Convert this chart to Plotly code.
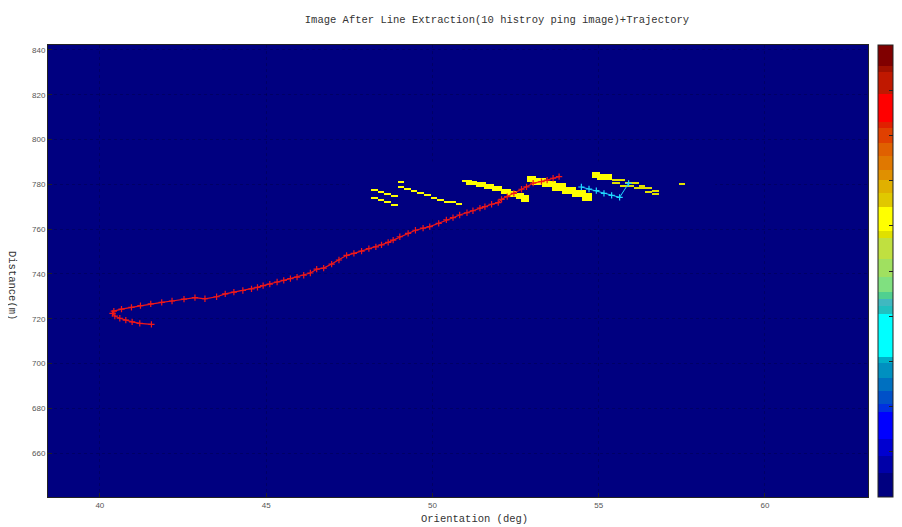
import numpy as np
import plotly.graph_objects as go

title_text = "Image After Line Extraction(10 histroy ping image)+Trajectory"
x_title = "Orientation (deg)"
y_title = "Distance(m)"

x_ticks = [40, 45, 50, 55, 60]
y_ticks = [660, 680, 700, 720, 740, 760, 780, 800, 820, 840]
cbar_ticks = [0, -5, -10, -15, -20, -25, -30, -35, -40, -45, -50]

# red trajectory (orientation deg, distance m)
traj_deg = [41.55, 41.20, 40.97, 40.78, 40.60, 40.45, 40.38, 40.42, 40.65, 40.95,
            41.22, 41.53, 41.86, 42.17, 42.53, 42.86, 43.16, 43.51, 43.77, 44.03,
            44.30, 44.56, 44.74, 44.91, 45.11, 45.33, 45.53, 45.73, 45.93, 46.13,
            46.33, 46.52, 46.73, 46.97, 47.19, 47.42, 47.64, 47.87, 48.09, 48.30,
            48.47, 48.67, 48.82, 49.02, 49.27, 49.49, 49.72, 49.92, 50.19, 50.42,
            50.62, 50.82, 51.04, 51.22, 51.43, 51.58, 51.78, 51.98, 52.08, 52.25,
            52.45, 52.68, 52.83, 53.03, 53.28, 53.45, 53.63, 53.81]
traj_dist = [717.5, 717.9, 718.6, 719.4, 720.2, 721.2, 722.4, 723.4, 724.3, 725.1,
             725.8, 726.6, 727.3, 727.9, 728.7, 729.4, 728.9, 729.8, 731.1, 731.9,
             732.6, 733.3, 734.0, 734.8, 735.4, 736.4, 737.1, 737.9, 738.6, 739.4,
             740.4, 742.1, 742.6, 744.4, 746.2, 748.3, 749.2, 750.2, 751.3, 752.1,
             753.0, 754.1, 755.1, 756.6, 758.1, 759.5, 760.4, 761.1, 762.6, 764.1,
             765.1, 766.3, 767.3, 768.2, 769.4, 770.0, 771.1, 771.8, 773.3, 774.5,
             776.0, 777.8, 778.9, 780.5, 781.2, 781.9, 782.7, 783.4]

# cyan trajectory
cyan_deg = [54.48, 54.71, 54.93, 55.16, 55.39, 55.63, 55.90]
cyan_dist = [778.8, 777.9, 777.2, 776.0, 775.1, 774.2, 780.4]

# extracted line cells: orientation start/end, distance top/bottom, level
seg_deg0 = [48.15, 48.35, 48.55, 48.75,
            48.15, 48.35, 48.55, 48.75,
            48.93,
            48.93, 49.13, 49.33, 49.53, 49.73, 49.93, 50.13, 50.33, 50.70,
            50.88, 51.00, 51.30, 51.55, 51.79, 52.03, 52.27, 52.51, 52.63,
            52.84, 53.02, 53.32, 53.62, 53.92, 54.22, 54.52,
            54.82, 54.97,
            55.39, 55.78, 56.18, 56.39, 56.60,
            55.39, 55.63, 56.03, 56.39, 56.60,
            57.39]
seg_deg1 = [48.35, 48.55, 48.75, 48.93,
            48.35, 48.55, 48.75, 48.93,
            49.13,
            49.13, 49.33, 49.53, 49.73, 49.93, 50.13, 50.33, 50.70, 50.89,
            51.18, 51.37, 51.61, 51.85, 52.09, 52.33, 52.57, 52.75, 52.88,
            53.11, 53.38, 53.68, 53.98, 54.28, 54.58, 54.82,
            55.03, 55.39,
            55.78, 56.18, 56.39, 56.60, 56.78,
            55.63, 56.03, 56.39, 56.60, 56.78,
            57.59]
seg_dist_top = [777.92, 776.90, 776.00, 774.93,
                774.05, 773.01, 772.11, 771.09,
                781.62,
                779.00, 778.11, 777.21, 776.32, 775.42, 774.35, 773.33, 772.43, 771.41,
                781.94, 781.27, 780.82, 779.93, 779.03, 777.92, 776.80, 775.68, 774.79,
                783.73, 782.83, 781.49, 780.15, 778.81, 777.25, 775.68,
                785.51, 784.62,
                782.16, 780.82, 779.48, 778.36, 777.25,
                780.82, 779.70, 778.59, 777.02, 775.68,
                780.73]
seg_dist_bot = [777.02, 776.00, 775.10, 774.03,
                773.15, 772.11, 771.21, 770.19,
                780.72,
                778.10, 777.21, 776.31, 775.42, 774.52, 773.45, 772.43, 771.53, 770.51,
                780.82, 779.48, 778.81, 777.69, 776.58, 775.46, 774.34, 773.23, 771.89,
                781.04, 779.70, 778.36, 777.02, 775.46, 773.90, 772.11,
                782.83, 781.94,
                781.27, 779.93, 778.59, 777.47, 776.35,
                779.93, 778.81, 777.69, 776.13, 774.79,
                779.70]
seg_level = [-19, -19, -19, -19,
             -19, -19, -19, -19,
             -19,
             -19, -19, -19, -19, -19, -19, -19, -19, -19,
             -19, -19, -19, -19, -19, -19, -19, -19, -19,
             -19, -19, -19, -19, -19, -19, -19,
             -19, -19,
             -21, -21, -21, -21, -21,
             -21, -21, -21, -21, -21,
             -21]

# colour bands of the map (low value, high value, colour)
band_lo = [-50, -47.3, -45.5, -43.6, -40.6, -39.7, -38.3, -36.8, -35.2, -34.5,
           -29.8, -28.9, -28.1, -27.3, -25.7, -23.7, -21.3, -20.6, -17.9, -16.4,
           -14.9, -13.8, -12.3, -10.8, -9.2, -8.5, -5.4, -3.0, -2.3]
band_hi = band_lo[1:] + [0]
band_col = ["#000080", "#0000a8", "#0000d0", "#0000ff", "#0030e0", "#0050c8", "#0070c0",
            "#0090c0", "#00b0c8", "#00ffff", "#20c0c0", "#40b8c0", "#50d090", "#80e080",
            "#a0e060", "#c0e040", "#e0e000", "#ffff00", "#e0c800", "#e0b000", "#e09000",
            "#e07800", "#e06000", "#e04000", "#e02000", "#ff0000", "#c01800", "#a01000",
            "#800000"]

ZMIN, ZMAX = -50, 0
colorscale = []
for lo, hi, c in zip(band_lo, band_hi, band_col):
    colorscale.append([(lo - ZMIN) / (ZMAX - ZMIN), c])
    colorscale.append([(hi - ZMIN) / (ZMAX - ZMIN), c])

# build image grid
gx = np.arange(47.5, 58.5, 0.05) + 0.025
gy = np.arange(765.0, 790.0, 0.3) + 0.15
Z = np.full((len(gy), len(gx)), -50.0)
for x0, x1, yt, yb, v in zip(seg_deg0, seg_deg1, seg_dist_top, seg_dist_bot, seg_level):
    mx = (gx >= x0) & (gx < x1)
    my = (gy <= yt) & (gy > yb)
    Z[np.ix_(my, mx)] = v

# page body has an 8px margin; figure is sized so it ends at the window edge
OFF = 8
W, H = 902 - OFF, 527 - OFF
L, T = 48 - OFF, 45 - OFF
R = W - (868 - OFF)
B = H - (497 - OFF)
pw, ph = W - L - R, H - T - B

fig = go.Figure()
fig.add_trace(go.Heatmap(
    x=gx, y=gy, z=Z, zmin=ZMIN, zmax=ZMAX, colorscale=colorscale,
    zsmooth=False, hoverinfo="skip",
    colorbar=dict(
        x=1 + 10 / pw, xanchor="left", xpad=0, ypad=0, thickness=15,
        len=1, y=0.5, yanchor="middle",
        outlinewidth=1, outlinecolor="#222",
        tickmode="array", tickvals=cbar_ticks, ticktext=[str(t) for t in cbar_ticks],
        ticks="inside", ticklen=4, tickcolor="#222",
        tickfont=dict(family="Liberation Sans", size=8, color="#555"),
    ),
))
fig.add_trace(go.Scatter(
    x=traj_deg, y=traj_dist, mode="lines+markers",
    line=dict(color="#f01818", width=1.2),
    marker=dict(symbol="cross-thin", size=4.5, line=dict(color="#f01818", width=1.2)),
    hoverinfo="skip", showlegend=False,
))
fig.add_trace(go.Scatter(
    x=cyan_deg, y=cyan_dist, mode="lines+markers",
    line=dict(color="#20d8ff", width=1),
    marker=dict(symbol="cross-thin", size=4.5, line=dict(color="#20d8ff", width=1.2)),
    hoverinfo="skip", showlegend=False,
))

axis_common = dict(
    showgrid=True, gridcolor="rgba(0,0,0,0.2)", griddash="dot", gridwidth=1,
    zeroline=False, showline=True, linecolor="#222", linewidth=1, mirror=True,
    ticks="inside", ticklen=4, tickcolor="#222",
    tickfont=dict(family="Liberation Sans", size=8, color="#555"),
    automargin=False,
)
fig.update_xaxes(range=[38.44, 63.1], tickvals=x_ticks, **axis_common)
fig.update_yaxes(range=[640.4, 842.2], tickvals=y_ticks, **axis_common)

fig.update_layout(
    width=W, height=H, autosize=False,
    margin=dict(l=L, r=R, t=T, b=B, pad=0, autoexpand=False),
    paper_bgcolor="white", plot_bgcolor="#000080",
    showlegend=False,
    title=dict(text=title_text, xref="paper", x=(497 - 48) / pw, xanchor="center",
               yref="container", y=1 - (19 - OFF) / H, yanchor="middle",
               font=dict(family="Liberation Mono", size=10.5, color="#333")),
    annotations=[
        dict(text=x_title, xref="paper", yref="paper", x=(474 - 48) / pw,
             y=-(519 - 497) / ph, xanchor="center", yanchor="middle",
             showarrow=False, font=dict(family="Liberation Mono", size=10.5, color="#333")),
        dict(text=y_title, xref="paper", yref="paper", x=(12 - 48) / pw,
             y=1 - (285 - 45) / ph, xanchor="center", yanchor="middle", textangle=90,
             showarrow=False, font=dict(family="Liberation Mono", size=10.5, color="#333")),
    ],
)

fig.write_html("out.html")
